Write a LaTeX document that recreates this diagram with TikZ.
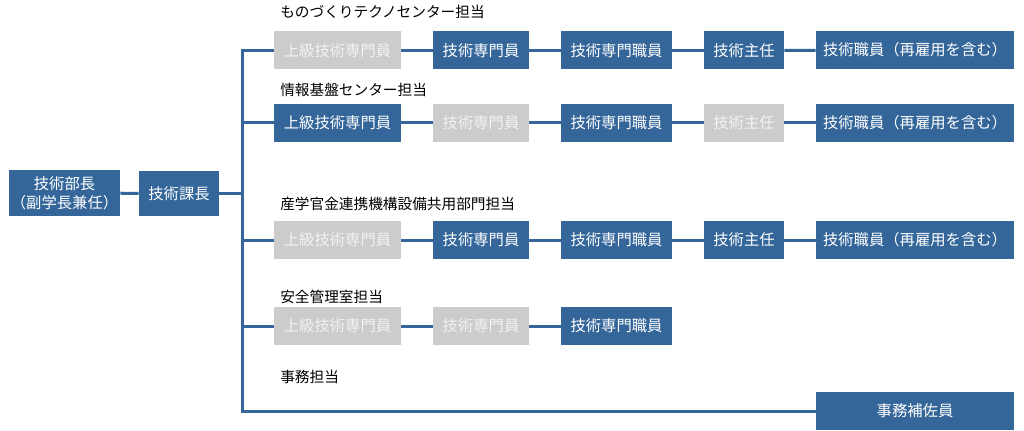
\documentclass[tikz,border=0pt]{standalone}
\usepackage{fontspec}
\setmainfont{Noto Sans CJK JP}
\definecolor{bbox}{HTML}{34669A}
\definecolor{gbox}{HTML}{CCCCCC}
\definecolor{gtext}{HTML}{F2F2F2}
\begin{document}
\begin{tikzpicture}[x=0.75pt,y=-0.75pt,
  base/.style={inner sep=0pt, minimum height=28.5pt, font=\fontsize{11.5}{14}\selectfont, align=center},
  dk/.style={base, fill=bbox, text=white},
  gy/.style={base, fill=gbox, text=gtext},
  wa/.style={minimum width=95.25pt},
  wb/.style={minimum width=72pt},
  wc/.style={minimum width=83.25pt},
  wd/.style={minimum width=60pt},
  we/.style={minimum width=148.5pt},
  ttl/.style={anchor=west, inner sep=0pt, font=\fontsize{11}{13}\selectfont, text=black},
  conn/.style={draw=bbox, line width=2.25pt}
]
\useasboundingbox (0,0) rectangle (1024,431);
\fill[white] (0,0) rectangle (1024,431);

% top level
\node[dk, minimum width=83.25pt, minimum height=34.5pt] (bucho) at (64.5,193) {技術部長\\（副学長兼任）};
\node[dk, minimum width=60pt, minimum height=33.75pt] (kacho) at (179,193.5) {技術課長};

% titles
\node[ttl] (t1) at (280,12) {ものづくりテクノセンター担当};
\node[ttl] (t2) at (280,90) {情報基盤センター担当};
\node[ttl] (t3) at (280,204) {産学官金連携機構設備共用部門担当};
\node[ttl] (t4) at (280,297) {安全管理室担当};
\node[ttl] (t5) at (280,377) {事務担当};

% row 1
\node[gy,wa] (a1) at (337.5,50.5) {上級技術専門員};
\node[dk,wb] (a2) at (481,50.5) {技術専門員};
\node[dk,wc] (a3) at (616.5,50.5) {技術専門職員};
\node[dk,wd] (a4) at (744,50.5) {技術主任};
\node[dk,we] (a5) at (915,50) {技術職員（再雇用を含む）};
% row 2
\node[dk,wa] (b1) at (337.5,123) {上級技術専門員};
\node[gy,wb] (b2) at (481,123) {技術専門員};
\node[dk,wc] (b3) at (616.5,123) {技術専門職員};
\node[gy,wd] (b4) at (744,123) {技術主任};
\node[dk,we] (b5) at (915,123) {技術職員（再雇用を含む）};
% row 3
\node[gy,wa] (c1) at (337.5,240) {上級技術専門員};
\node[dk,wb] (c2) at (481,240) {技術専門員};
\node[dk,wc] (c3) at (616.5,240) {技術専門職員};
\node[dk,wd] (c4) at (744,240) {技術主任};
\node[dk,we] (c5) at (915,240) {技術職員（再雇用を含む）};
% row 4
\node[gy,wa] (d1) at (337.5,326) {上級技術専門員};
\node[gy,wb] (d2) at (481,326) {技術専門員};
\node[dk,wc] (d3) at (616.5,326) {技術専門職員};
% row 5
\node[dk,we] (e5) at (915,411) {事務補佐員};

% trunk
\coordinate (tr1) at (242,50.5);
\coordinate (tr5) at (242,411);

\draw[conn] (bucho) -- (kacho);
\draw[conn] (kacho.east) -- (kacho.east -| tr1);
\draw[conn, line join=miter] (a1.west) -- (tr1) -- (tr5) -- (e5.west);
\draw[conn] (b1.west) -- (b1.west -| tr1);
\draw[conn] (c1.west) -- (c1.west -| tr1);
\draw[conn] (d1.west) -- (d1.west -| tr1);

\foreach \r in {a,b,c}{
  \draw[conn] (\r1) -- (\r2);
  \draw[conn] (\r2) -- (\r3);
  \draw[conn] (\r3) -- (\r4);
  \draw[conn] (\r4) -- (\r5);
}
\draw[conn] (d1) -- (d2);
\draw[conn] (d2) -- (d3);
\end{tikzpicture}
\end{document}
